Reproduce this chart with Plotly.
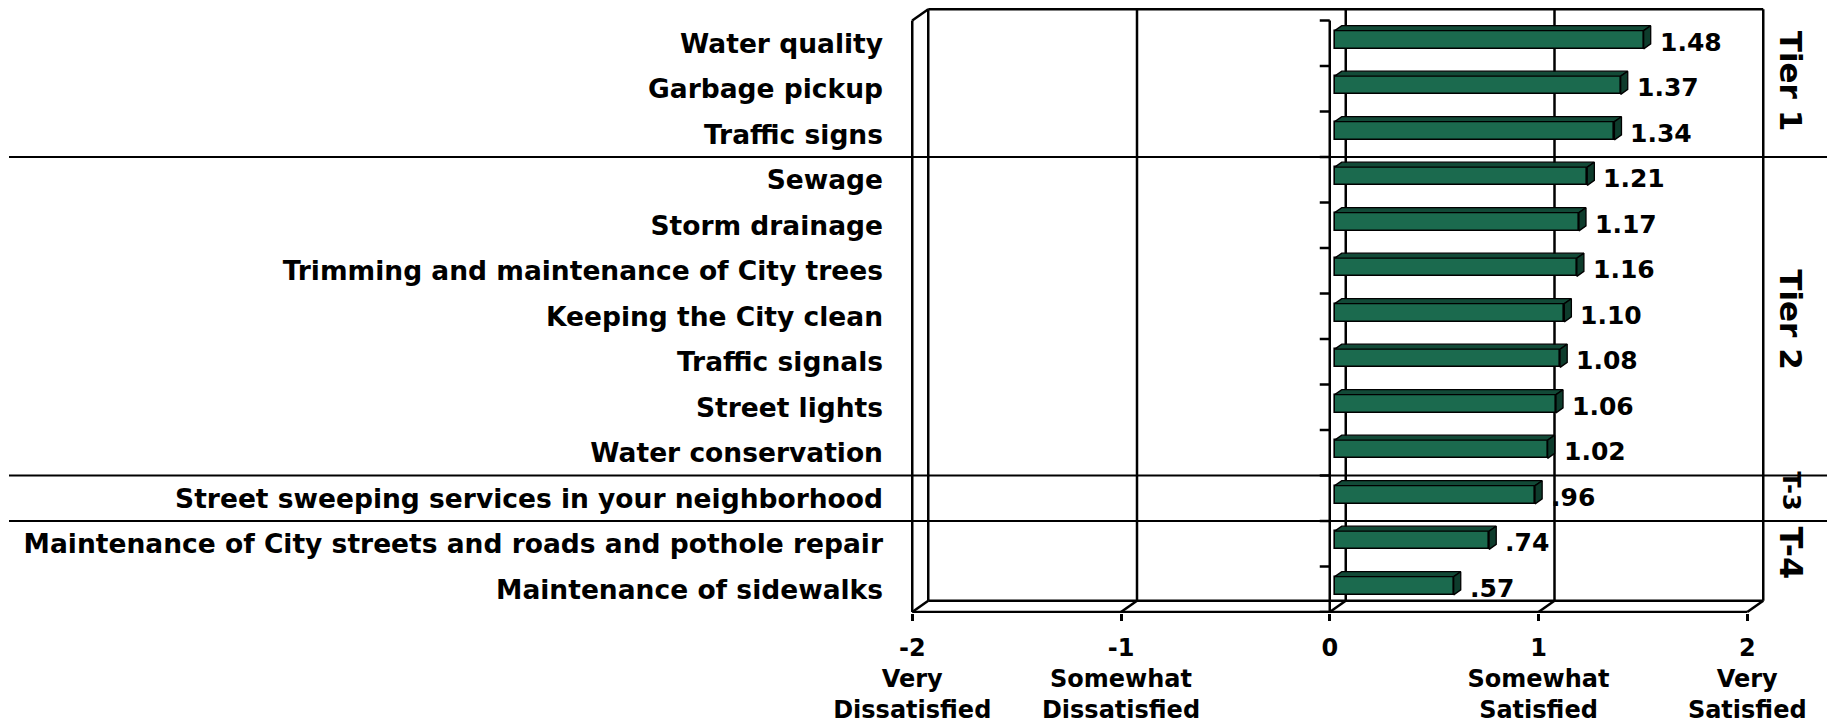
import plotly.graph_objects as go

# ---------------- data ----------------
categories = [
    "Water quality",
    "Garbage pickup",
    "Traffic signs",
    "Sewage",
    "Storm drainage",
    "Trimming and maintenance of City trees",
    "Keeping the City clean",
    "Traffic signals",
    "Street lights",
    "Water conservation",
    "Street sweeping services in your neighborhood",
    "Maintenance of City streets and roads and pothole repair",
    "Maintenance of sidewalks",
]
values = [1.48, 1.37, 1.34, 1.21, 1.17, 1.16, 1.10, 1.08, 1.06, 1.02, 0.96, 0.74, 0.57]
value_labels = ["1.48", "1.37", "1.34", "1.21", "1.17", "1.16", "1.10", "1.08",
                "1.06", "1.02", ".96", ".74", ".57"]
tier_names = ["Tier 1", "Tier 2", "T-3", "T-4"]
tier_sizes = [3, 7, 1, 2]
scale_vals = [-2, -1, 0, 1, 2]
scale_labels = [
    "-2<br>Very<br>Dissatisfied",
    "-1<br>Somewhat<br>Dissatisfied",
    "0",
    "1<br>Somewhat<br>Satisfied",
    "2<br>Very<br>Satisfied",
]

# ---------------- geometry / style ----------------
W, H = 1827, 728
PX_X = 208.75          # pixels per value unit on the front plane
X0_PX = 1329.75        # pixel of value 0 on the front plane
ML, MR = 904, 38
PX_Y = 45.5            # pixels per category
TOP_CAT_PX = 20.5
MT = 2
n = len(categories)
FLOOR_PX = TOP_CAT_PX + n * PX_Y
MB = H - (FLOOR_PX + 1)

x_range = [(ML - X0_PX) / PX_X, (W - MR - X0_PX) / PX_X]
y_range = [n - 0.5 + 1 / PX_Y, -0.5 - (TOP_CAT_PX - MT) / PX_Y]

DX = 16 / PX_X         # depth offset (x)
DY = -11.3 / PX_Y      # depth offset (y, up)
F1, F2 = 0.31, 0.75    # bar front/back depth fractions
BAR_H = 0.40

FONT = "DejaVu Sans"
FACE = "#1B6A4E"
TOPC = "#124A37"
SIDE = "#0E3C2C"
LINE = dict(color="black", width=2.5)

xmin, xmax = scale_vals[0], scale_vals[-1]
ytop, ybot = -0.5, n - 0.5

fig = go.Figure()

shapes = []
def seg(x0, y0, x1, y1, **kw):
    d = dict(type="line", xref="x", yref="y", x0=x0, y0=y0, x1=x1, y1=y1,
             line=LINE, layer="below")
    d.update(kw)
    shapes.append(d)

# back wall
seg(xmin + DX, ytop + DY, xmax + DX, ytop + DY)
seg(xmin + DX, ybot + DY, xmax + DX, ybot + DY)
for v in scale_vals:
    seg(v + DX, ytop + DY, v + DX, ybot + DY)
# left wall
seg(xmin, ytop, xmin, ybot)
seg(xmin, ytop, xmin + DX, ytop + DY)
# floor
seg(xmin, ybot, xmax, ybot)
for v in scale_vals:
    seg(v, ybot, v + DX, ybot + DY)
# category axis at 0
seg(0, ytop, 0, ybot)
for k in range(n + 1):
    seg(-10 / PX_X, k - 0.5, 0, k - 0.5)

# tier separator lines
cum = 0
for s in tier_sizes[:-1]:
    cum += s
    shapes.append(dict(type="line", xref="paper", yref="y",
                       x0=(9 - ML) / (W - ML - MR), x1=(W - ML) / (W - ML - MR),
                       y0=cum - 0.5, y1=cum - 0.5,
                       line=dict(color="black", width=2), layer="below"))

# bars: front face
ypos = [k + F1 * DY for k in range(n)]
fig.add_trace(go.Bar(
    orientation="h", y=ypos, x=values, base=[F1 * DX] * n, width=BAR_H,
    marker=dict(color=FACE, line=dict(color="black", width=1.6)),
    showlegend=False, hoverinfo="skip"))

# top and side faces
tx, ty, sx, sy = [], [], [], []
for yc, v in zip(ypos, values):
    yt = yc - BAR_H / 2
    yb = yc + BAR_H / 2
    dd = (F2 - F1)
    xf = F1 * DX + v
    tx += [F1 * DX, xf, xf + dd * DX, F2 * DX, F1 * DX, None]
    ty += [yt, yt, yt + dd * DY, yt + dd * DY, yt, None]
    sx += [xf, xf, xf + dd * DX, xf + dd * DX, xf, None]
    sy += [yt, yb, yb + dd * DY, yt + dd * DY, yt, None]
fig.add_trace(go.Scatter(x=tx, y=ty, mode="lines", fill="toself", fillcolor=TOPC,
                         line=dict(color="black", width=1.3), showlegend=False,
                         hoverinfo="skip"))
fig.add_trace(go.Scatter(x=sx, y=sy, mode="lines", fill="toself", fillcolor=SIDE,
                         line=dict(color="black", width=1.3), showlegend=False,
                         hoverinfo="skip"))

annotations = []
for k, (v, lab) in enumerate(zip(values, value_labels)):
    annotations.append(dict(x=v, y=k, xref="x", yref="y", text=lab, showarrow=False,
                            xanchor="left", yanchor="middle", xshift=F2 * DX * PX_X + 7,
                            yshift=1,
                            font=dict(family=FONT, size=25, color="black", weight=700)))

tier_font = [31, 31, 24, 32]
tier_yshift = [8, -3, 7, 14]
start = 0
for name, s, fs, ysh in zip(tier_names, tier_sizes, tier_font, tier_yshift):
    annotations.append(dict(x=(1791 - ML) / (W - ML - MR), y=start + (s - 1) / 2,
                            xref="paper", yref="y", text=name, showarrow=False,
                            textangle=90, xanchor="center", yanchor="middle", yshift=ysh,
                            font=dict(family=FONT, size=fs, color="black", weight=700)))
    start += s

fig.update_layout(
    width=W, height=H,
    margin=dict(l=ML, r=MR, t=MT, b=MB, pad=0),
    paper_bgcolor="white", plot_bgcolor="white",
    shapes=shapes, annotations=annotations,
    bargap=0, showlegend=False,
    xaxis=dict(range=x_range, tickvals=scale_vals, ticktext=scale_labels,
               ticks="outside", ticklen=7, tickwidth=2.5, tickcolor="black",
               showgrid=False, zeroline=False, showline=False, automargin=False,
               ticklabelstandoff=6,
               tickfont=dict(family=FONT, size=24, color="black", weight=700)),
    yaxis=dict(range=y_range, tickvals=list(range(n)), ticktext=categories,
               ticks="", showgrid=False, zeroline=False, showline=False, automargin=False,
               ticklabelstandoff=20,
               tickfont=dict(family=FONT, size=26.5, color="black", weight=700)),
)

fig.write_html("out.html", config={"displayModeBar": False},
               post_script="document.body.style.margin='0px';")
